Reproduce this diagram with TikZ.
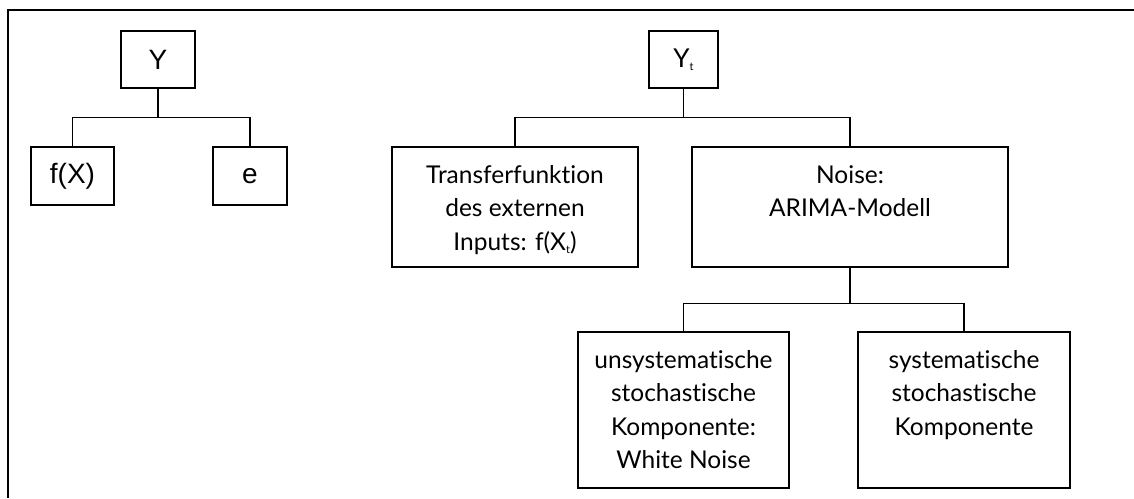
\documentclass[tikz,border=0pt]{standalone}
\usepackage{fontspec}
\setmainfont[Ligatures=NoCommon]{Lato}
\newfontfamily\arialf{Liberation Sans}
\begin{document}
\begin{tikzpicture}[x=1pt,y=-1pt,
  box/.style={draw,line width=1.3pt,inner sep=0pt},
  conn/.style={line width=1.1pt},
  txt/.style={anchor=base,align=center,inner sep=0pt,font=\fontsize{24.5}{33.5}\selectfont},
  atxt/.style={font=\arialf\fontsize{28}{30}\selectfont}]
\useasboundingbox (0,0) rectangle (1134,498);
\draw[line width=2.2pt] (8,498) -- (8,10) -- (1134,10);
% left tree
\node[box,minimum width=74pt,minimum height=57pt,atxt] (y) at (158,59.5) {Y};
\node[box,minimum width=83pt,minimum height=58pt,atxt] (fx) at (72.5,176) {f(X)};
\node[box,minimum width=74pt,minimum height=58pt,atxt] (e) at (250,176) {e};
\draw[conn] (y.south) -- ++(0,29) -| (fx.north);
\draw[conn] (y.south) -- ++(0,29) -| (e.north);
% right tree
\node[box,minimum width=69pt,minimum height=57pt,font=\fontsize{26}{30}\selectfont] (yt) at (683.5,59.5) {Y\raisebox{-3pt}{\fontsize{11}{11}\selectfont t}};
\node[box,minimum width=246pt,minimum height=120pt] (tf) at (515,207) {};
\node[box,minimum width=316pt,minimum height=120pt] (noise) at (850,207) {};
\node[box,minimum width=211pt,minimum height=156pt] (us) at (683.5,410) {};
\node[box,minimum width=212pt,minimum height=156pt] (sy) at (964,410) {};
\node[txt] (tft) at (515,250) {Transferfunktion\\des externen\\Inputs: f(X\raisebox{-3pt}{\fontsize{11}{11}\selectfont t})};
\node[txt] (noiset) at (850,216.5) {Noise:\\ARIMA-Modell};
\node[txt] (ust) at (683.5,468.5) {unsystematische\\stochastische\\Komponente:\\White Noise};
\node[txt] (syt) at (964,435) {systematische\\stochastische\\Komponente};
\draw[conn] (yt.south) -- ++(0,29) -| (tf.north);
\draw[conn] (yt.south) -- ++(0,29) -| (noise.north);
\draw[conn] (noise.south) -- ++(0,36) -| (us.north);
\draw[conn] (noise.south) -- ++(0,36) -| (sy.north);
\end{tikzpicture}
\end{document}
